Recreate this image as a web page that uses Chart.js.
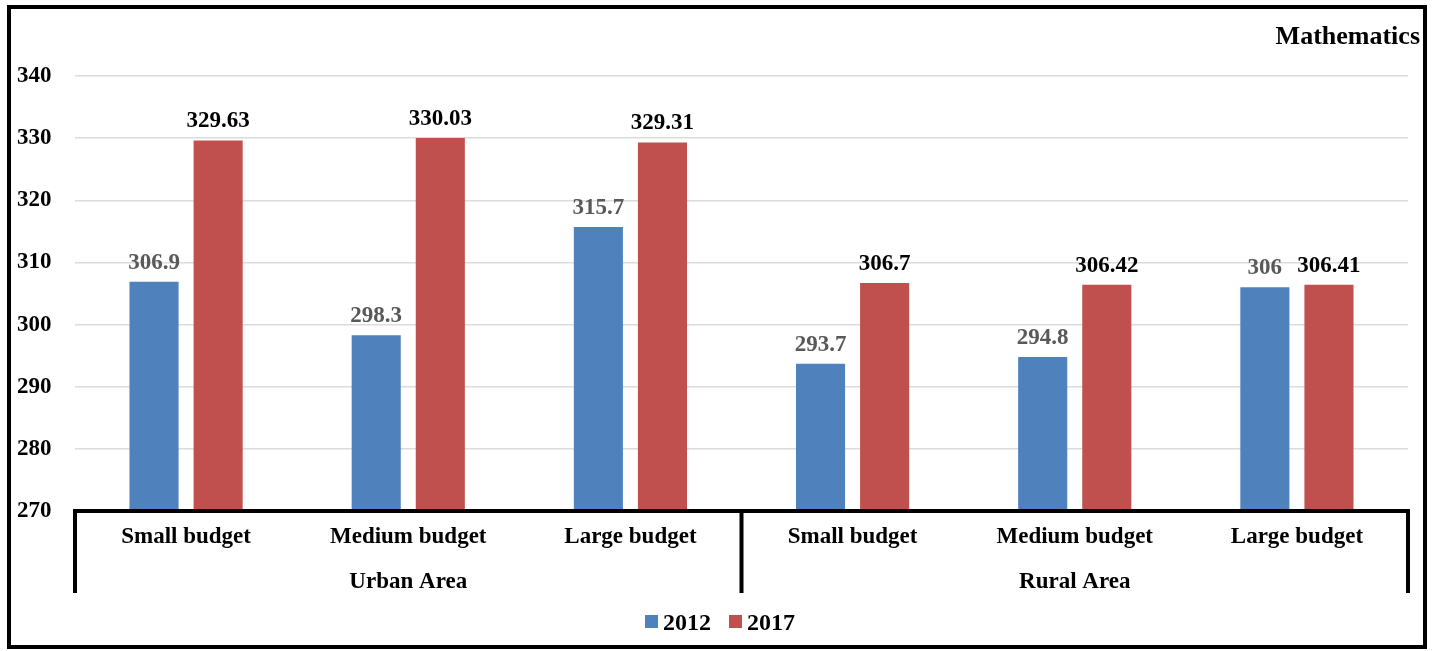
<!DOCTYPE html>
<html>
<head>
<meta charset="utf-8">
<script src="https://cdn.jsdelivr.net/npm/chart.js@4.4.1/dist/chart.umd.min.js"></script>
<style>
  html, body { margin: 0; padding: 0; background: #fff; }
  #wrap { width: 1432px; height: 651px; position: relative; }
</style>
</head>
<body>
<div id="wrap"><canvas id="c" width="1432" height="651"></canvas></div>
<script>
// Scores by school budget, grouped by area
const categories = ['Small budget', 'Medium budget', 'Large budget', 'Small budget', 'Medium budget', 'Large budget'];
const areaNames = ['Urban Area', 'Rural Area'];
const areaSizes = [3, 3];
const seriesNames = ['2012', '2017'];
const values2012 = [306.9, 298.3, 315.7, 293.7, 294.8, 306];
const values2017 = [329.63, 330.03, 329.31, 306.7, 306.42, 306.41];
const yMin = 270;
const yMax = 340;
const yStep = 10;
const subjectTitle = 'Mathematics';

const BLUE = '#4F81BD';
const RED = '#C0504D';
const FONT = '"Liberation Serif", "Times New Roman", serif';

const overlay = {
  id: 'overlay',
  afterDatasetsDraw(chart) {
    const ctx = chart.ctx;
    const area = chart.chartArea;
    const xs = chart.scales.x;
    ctx.save();

    // value labels above bars
    ctx.font = 'bold 23px ' + FONT;
    ctx.textAlign = 'center';
    ctx.textBaseline = 'alphabetic';
    chart.data.datasets.forEach((ds, di) => {
      const meta = chart.getDatasetMeta(di);
      ctx.fillStyle = di === 0 ? '#595959' : '#000';
      meta.data.forEach((bar, i) => {
        ctx.fillText(String(ds.data[i]), bar.x, bar.y - 13);
      });
    });

    // axis baseline and group separators
    ctx.strokeStyle = '#000';
    ctx.lineWidth = 4;
    const base = chart.scales.y.getPixelForValue(yMin);
    const dropBottom = 593;
    ctx.beginPath();
    ctx.moveTo(area.left, dropBottom);
    ctx.lineTo(area.left, base);
    ctx.lineTo(area.right, base);
    ctx.lineTo(area.right, dropBottom);
    const slot = (area.right - area.left) / categories.length;
    let idx = 0;
    const bounds = [];
    areaSizes.forEach((n, k) => {
      const l = area.left + idx * slot;
      idx += n;
      const r = area.left + idx * slot;
      bounds.push([l, r]);
      if (k < areaSizes.length - 1) {
        ctx.moveTo(r, base);
        ctx.lineTo(r, dropBottom);
      }
    });
    ctx.stroke();

    // category labels
    ctx.fillStyle = '#000';
    ctx.font = 'bold 23px ' + FONT;
    categories.forEach((c, i) => {
      ctx.fillText(c, xs.getPixelForValue(i), 543);
    });
    // area labels
    bounds.forEach((b, k) => {
      ctx.fillText(areaNames[k], (b[0] + b[1]) / 2, 588);
    });

    // legend
    ctx.font = 'bold 24px ' + FONT;
    ctx.textAlign = 'left';
    const colors = [BLUE, RED];
    let lx = 645;
    seriesNames.forEach((s, k) => {
      ctx.fillStyle = colors[k];
      ctx.fillRect(lx, 615, 13, 13);
      ctx.fillStyle = '#000';
      ctx.fillText(s, lx + 18, 630);
      lx += 84;
    });

    // subject title
    ctx.textAlign = 'right';
    ctx.font = 'bold 26px ' + FONT;
    ctx.fillText(subjectTitle, 1420, 44);

    // outer frame
    ctx.lineWidth = 4;
    ctx.strokeRect(9, 7, 1416, 640);
    ctx.restore();
  }
};

new Chart(document.getElementById('c'), {
  type: 'bar',
  data: {
    labels: categories,
    datasets: [
      { label: seriesNames[0], data: values2012, backgroundColor: BLUE,
        categoryPercentage: 0.577, barPercentage: 0.766 },
      { label: seriesNames[1], data: values2017, backgroundColor: RED,
        categoryPercentage: 0.577, barPercentage: 0.766 }
    ]
  },
  options: {
    responsive: false,
    animation: false,
    devicePixelRatio: 1,
    layout: { padding: { left: 17, right: 24, top: 76, bottom: 140 } },
    plugins: { legend: { display: false }, tooltip: { enabled: false } },
    scales: {
      x: { display: false },
      y: {
        min: yMin, max: yMax,
        afterFit(scale) { scale.width = 58; },
        ticks: {
          stepSize: yStep,
          color: '#000',
          crossAlign: 'far',
          font: { family: FONT, size: 23, weight: 'bold' }
        },
        grid: { color: '#dcdcdc', lineWidth: 1.5, drawTicks: false },
        border: { display: false }
      }
    }
  },
  plugins: [overlay]
});
</script>
</body>
</html>
